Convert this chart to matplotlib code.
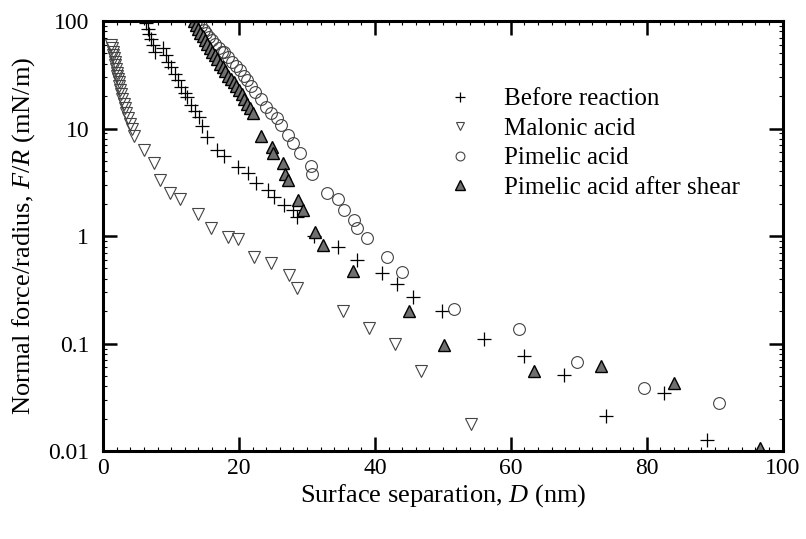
import matplotlib
matplotlib.use("Agg")
import matplotlib.pyplot as plt
from matplotlib.ticker import FixedLocator, NullFormatter, MultipleLocator

plt.rcParams['font.family'] = ['Liberation Serif', 'DejaVu Serif']
plt.rcParams['mathtext.fontset'] = 'custom'
plt.rcParams['mathtext.it'] = 'Liberation Serif:italic'
plt.rcParams['mathtext.rm'] = 'Liberation Serif'

# Before reaction (+)
before_d = [6.3, 6.6, 6.8, 7.0, 7.3, 7.6,
            8.8, 9.2, 9.6, 10.0, 10.5, 11.0, 11.5, 12.0, 12.4, 13.0, 13.5, 14.1, 14.6, 15.3,
            16.8, 17.8, 19.8, 21.3, 22.5, 24.3, 25.1, 26.6, 28.0, 28.6, 31.0, 34.6,
            37.4, 41.0, 43.3, 45.6, 49.8, 56.0, 61.9, 67.8, 74.0, 82.5, 88.8]
before_f = [95, 85, 75, 68, 60, 52,
            56, 48, 42, 37, 32, 28, 24.5, 21.5, 19.6, 16.5, 14.5, 12.8, 10.5, 8.3,
            6.3, 5.5, 4.4, 3.9, 3.1, 2.7, 2.3, 1.95, 1.75, 1.5, 1.0, 0.79,
            0.60, 0.45, 0.36, 0.27, 0.20, 0.11, 0.077, 0.051, 0.021, 0.035, 0.0126]

# Malonic acid (open down triangles)
malonic_d = [1.2, 1.3, 1.4, 1.5, 1.6, 1.7, 1.8, 1.9, 2.0, 2.1, 2.2, 2.3, 2.4, 2.5, 2.6,
             2.8, 3.0, 3.2, 3.4, 3.6, 3.9, 4.2, 4.5, 6.0, 7.5, 8.4, 9.9, 11.3, 14.0,
             15.9, 18.4, 19.9, 22.2, 24.7, 27.4, 28.6, 35.3, 39.1, 43.0, 46.8, 54.1]
malonic_f = [60, 56, 52, 48, 45, 42, 39, 36, 33, 31, 29, 27, 25, 23, 21,
             19, 17, 15.5, 14, 12.5, 11, 9.8, 8.5, 6.3, 4.8, 3.3, 2.5, 2.2, 1.6,
             1.2, 0.98, 0.93, 0.64, 0.56, 0.43, 0.33, 0.20, 0.14, 0.10, 0.056, 0.018]

# Pimelic acid (open circles)
pimelic_d = [13.6, 14.0, 14.4, 14.8, 15.2, 15.6, 16.0, 16.5, 17.0, 17.5, 17.8, 18.4, 19.0,
             19.6, 20.2, 20.8, 21.2, 21.7, 22.3, 23.2, 24.0, 24.7, 25.6, 26.2, 27.2, 28.0,
             29.0, 30.6, 30.8, 33.0, 34.6, 35.4, 36.9, 37.4, 38.9, 41.8, 44.0,
             51.6, 61.2, 69.8, 79.6, 90.6]
pimelic_f = [100, 95, 89, 83, 77, 71, 66, 61, 56, 52, 51, 46, 42,
             38, 35, 31, 28, 25, 22, 19, 16, 14, 12.5, 10.8, 8.7, 7.4,
             5.9, 4.5, 3.8, 2.5, 2.2, 1.75, 1.4, 1.2, 0.97, 0.64, 0.46,
             0.21, 0.136, 0.067, 0.039, 0.028]

# Pimelic acid after shear (filled triangles)
shear_d = [13.3, 13.6, 14.0, 14.3, 14.7, 15.0, 15.3, 15.7, 16.0, 16.4, 16.8, 17.2, 17.6,
           18.0, 18.4, 18.8, 19.2, 19.6, 20.0, 20.4, 20.8, 21.2, 21.6, 22.0, 23.2, 24.9,
           25.0, 26.5, 26.8, 27.2, 28.7, 29.4, 31.2, 32.4, 36.8, 45.0, 50.1, 63.4,
           73.2, 84.0, 96.6]
shear_f = [100, 92, 85, 78, 72, 66, 61, 56, 52, 48, 44, 40, 37,
           34, 31, 29, 27, 25, 23, 21, 19, 17, 15.5, 14, 8.5, 6.7,
           5.9, 4.8, 3.8, 3.3, 2.15, 1.75, 1.08, 0.83, 0.47, 0.20, 0.097, 0.056,
           0.062, 0.043, 0.0107]

fig = plt.figure(figsize=(8.06, 5.39), dpi=100)
ax = fig.add_axes([0.128, 0.163, 0.843, 0.798])

ax.plot(before_d, before_f, '+', color='black', ms=10, mew=0.9, ls='none',
        label='Before reaction')
ax.plot(malonic_d, malonic_f, 'v', mfc='none', mec='#444444', ms=8, mew=0.8, ls='none',
        label='Malonic acid')
ax.plot(pimelic_d, pimelic_f, 'o', mfc='none', mec='#444444', ms=8.5, mew=0.8, ls='none',
        label='Pimelic acid')
ax.plot(shear_d, shear_f, '^', mfc='#707070', mec='black', ms=9, mew=1.0, ls='none',
        label='Pimelic acid after shear')

ax.set_yscale('log')
ax.set_xlim(0, 100)
ax.set_ylim(0.01, 100)
ax.set_yticks([0.01, 0.1, 1, 10, 100])
ax.set_yticklabels(['0.01', '0.1', '1', '10', '100'])
ax.set_xticks([0, 20, 40, 60, 80, 100])
ax.xaxis.set_minor_locator(MultipleLocator(2))
minors = [m * 10.0 ** e for e in range(-2, 2) for m in range(2, 10)]
ax.yaxis.set_minor_locator(FixedLocator(minors))
ax.yaxis.set_minor_formatter(NullFormatter())

ax.tick_params(which='both', direction='in', top=True, right=True, labelsize=17)
ax.tick_params(axis='y', which='major', pad=10)
ax.tick_params(axis='x', which='major', pad=5)
ax.tick_params(which='major', length=10, width=1.8)
ax.tick_params(which='minor', length=3, width=0.8)
for s in ax.spines.values():
    s.set_linewidth(2.2)

ax.set_xlabel('Surface separation, $D$ (nm)', fontsize=19, labelpad=2)
ax.set_ylabel('Normal force/radius, $F/R$ (mN/m)', fontsize=19, labelpad=8)

ax.legend(loc='upper left', bbox_to_anchor=(0.483, 0.868), frameon=False, fontsize=18,
          handletextpad=1.0, labelspacing=0.28, markerscale=0.75, handlelength=1.5,
          borderaxespad=0)

fig.savefig('out.png', dpi=100)
